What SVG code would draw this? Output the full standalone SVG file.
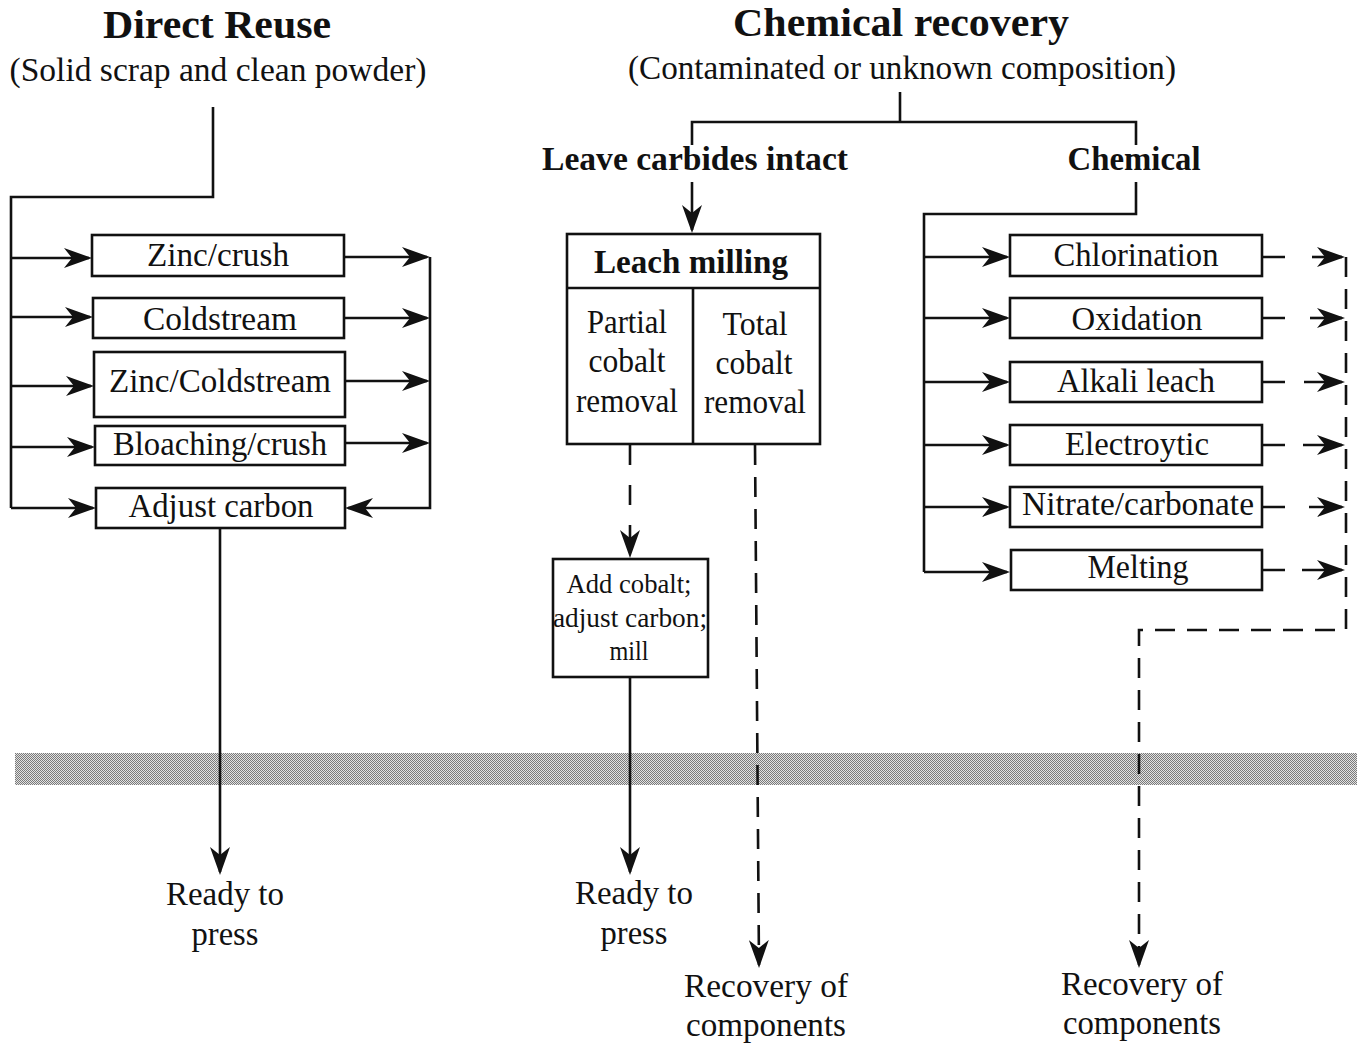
<svg xmlns="http://www.w3.org/2000/svg" width="1363" height="1046" viewBox="0 0 1363 1046">
  <style>
    text { font-family: "Liberation Serif", "Times New Roman", serif; fill: #111; text-anchor: middle; }
    .title { font-size: 40px; font-weight: bold; }
    .sub { font-size: 33px; }
    .head { font-size: 33px; font-weight: bold; }
    .lbl { font-size: 33px; }
    .small { font-size: 27px; }
    .box { fill: #fff; stroke: #111; stroke-width: 2.6; }
    .ln { fill: none; stroke: #111; stroke-width: 2.6; }
    .dash { fill: none; stroke: #111; stroke-width: 2.6; stroke-dasharray: 20 12; }
  </style>
  <defs>
    <marker id="arr" viewBox="0 0 28 20" refX="25" refY="10" markerWidth="28" markerHeight="20" markerUnits="userSpaceOnUse" orient="auto">
      <path d="M0,0 L28,10 L0,20 L8,10 Z" fill="#111"/>
    </marker>
    <pattern id="dither" width="2" height="2" patternUnits="userSpaceOnUse">
      <rect width="2" height="2" fill="#e2e2e2"/>
      <rect width="1" height="1" fill="#7a7a7a"/>
      <rect x="1" y="1" width="1" height="1" fill="#7a7a7a"/>
    </pattern>
  </defs>

  <rect width="1363" height="1046" fill="#fff"/>

  <!-- shaded separator band -->
  <rect x="15" y="753" width="1342" height="32" fill="url(#dither)"/>

  <!-- headings -->
  <g id="heading-direct">
    <text class="title" x="217" y="38" textLength="228" lengthAdjust="spacingAndGlyphs">Direct Reuse</text>
    <text class="sub" x="218" y="81" textLength="417" lengthAdjust="spacingAndGlyphs">(Solid scrap and clean powder)</text>
  </g>
  <g id="heading-chemical">
    <text class="title" x="901" y="36" textLength="336" lengthAdjust="spacingAndGlyphs">Chemical recovery</text>
    <text class="sub" x="902" y="79" textLength="548" lengthAdjust="spacingAndGlyphs">(Contaminated or unknown composition)</text>
  </g>
  <g id="branch-intact">
    <text class="head" x="695" y="170" textLength="306" lengthAdjust="spacingAndGlyphs">Leave carbides intact</text>
  </g>
  <g id="branch-chemical">
    <text class="head" x="1134" y="170" textLength="133" lengthAdjust="spacingAndGlyphs">Chemical</text>
  </g>

  <!-- connectors -->
  <g id="connectors">
    <!-- direct reuse feed -->
    <path class="ln" d="M213,107 V197 H11 V508"/>
    <line class="ln" x1="11" y1="258" x2="89" y2="258" marker-end="url(#arr)"/>
    <line class="ln" x1="11" y1="317" x2="90" y2="317" marker-end="url(#arr)"/>
    <line class="ln" x1="11" y1="386" x2="91" y2="386" marker-end="url(#arr)"/>
    <line class="ln" x1="11" y1="447" x2="92" y2="447" marker-end="url(#arr)"/>
    <line class="ln" x1="11" y1="508" x2="93" y2="508" marker-end="url(#arr)"/>
    <!-- outputs to collector -->
    <line class="ln" x1="344" y1="257" x2="427" y2="257" marker-end="url(#arr)"/>
    <line class="ln" x1="344" y1="318" x2="427" y2="318" marker-end="url(#arr)"/>
    <line class="ln" x1="345" y1="381" x2="427" y2="381" marker-end="url(#arr)"/>
    <line class="ln" x1="345" y1="443" x2="427" y2="443" marker-end="url(#arr)"/>
    <path class="ln" d="M430,257 V508 H348" marker-end="url(#arr)"/>
    <line class="ln" x1="220" y1="528" x2="220" y2="872" marker-end="url(#arr)"/>

    <!-- chemical recovery split -->
    <path class="ln" d="M900,92 V122"/>
    <path class="ln" d="M692,145 V122 H1136 V145"/>
    <line class="ln" x1="692" y1="182" x2="692" y2="230" marker-end="url(#arr)"/>

    <!-- leach milling outputs -->
    <line class="ln" x1="630" y1="445" x2="630" y2="555" stroke-dasharray="20 20" marker-end="url(#arr)"/>
    <line class="ln" x1="630" y1="678" x2="630" y2="872" marker-end="url(#arr)"/>
    <line class="dash" x1="755" y1="445" x2="759" y2="965" marker-end="url(#arr)"/>

    <!-- chemical routes feed -->
    <path class="ln" d="M1136,182 V214 H924 V572"/>
    <line class="ln" x1="924" y1="257" x2="1007" y2="257" marker-end="url(#arr)"/>
    <line class="ln" x1="924" y1="318" x2="1007" y2="318" marker-end="url(#arr)"/>
    <line class="ln" x1="924" y1="382" x2="1007" y2="382" marker-end="url(#arr)"/>
    <line class="ln" x1="924" y1="445" x2="1007" y2="445" marker-end="url(#arr)"/>
    <line class="ln" x1="924" y1="507" x2="1007" y2="507" marker-end="url(#arr)"/>
    <line class="ln" x1="924" y1="572" x2="1007" y2="572" marker-end="url(#arr)"/>

    <!-- chemical routes outputs (dashed) -->
    <path class="ln" d="M1262,257 H1285 M1262,318 H1285 M1262,382 H1285 M1262,445 H1285 M1262,507 H1285 M1262,570 H1285"/>
    <line class="ln" x1="1312" y1="257" x2="1342" y2="257" marker-end="url(#arr)"/>
    <line class="ln" x1="1310" y1="318" x2="1342" y2="318" marker-end="url(#arr)"/>
    <line class="ln" x1="1304" y1="382" x2="1342" y2="382" marker-end="url(#arr)"/>
    <line class="ln" x1="1303" y1="445" x2="1342" y2="445" marker-end="url(#arr)"/>
    <line class="ln" x1="1309" y1="507" x2="1342" y2="507" marker-end="url(#arr)"/>
    <line class="ln" x1="1302" y1="570" x2="1342" y2="570" marker-end="url(#arr)"/>
    <path class="dash" d="M1346,257 V630 H1139 V965" marker-end="url(#arr)"/>
  </g>

  <!-- direct reuse process boxes -->
  <g id="zinc-crush">
    <rect class="box" x="92" y="235" width="252" height="41"/>
    <text class="lbl" x="218" y="266" textLength="142" lengthAdjust="spacingAndGlyphs">Zinc/crush</text>
  </g>
  <g id="coldstream">
    <rect class="box" x="93" y="298" width="251" height="40"/>
    <text class="lbl" x="220" y="330" textLength="154" lengthAdjust="spacingAndGlyphs">Coldstream</text>
  </g>
  <g id="zinc-coldstream">
    <rect class="box" x="94" y="352" width="251" height="65"/>
    <text class="lbl" x="220" y="392" textLength="222" lengthAdjust="spacingAndGlyphs">Zinc/Coldstream</text>
  </g>
  <g id="bloaching-crush">
    <rect class="box" x="95" y="426" width="250" height="39"/>
    <text class="lbl" x="220" y="455" textLength="214" lengthAdjust="spacingAndGlyphs">Bloaching/crush</text>
  </g>
  <g id="adjust-carbon">
    <rect class="box" x="96" y="488" width="249" height="40"/>
    <text class="lbl" x="221" y="517" textLength="185" lengthAdjust="spacingAndGlyphs">Adjust carbon</text>
  </g>
  <g id="ready-press-1">
    <text class="lbl" x="225" y="905" textLength="118" lengthAdjust="spacingAndGlyphs">Ready to</text>
    <text class="lbl" x="225" y="945" textLength="67" lengthAdjust="spacingAndGlyphs">press</text>
  </g>

  <!-- leach milling -->
  <g id="leach-milling">
    <rect class="box" x="567" y="234" width="253" height="210"/>
    <line class="ln" x1="567" y1="288" x2="820" y2="288"/>
    <line class="ln" x1="693" y1="288" x2="693" y2="444"/>
    <text class="head" x="691" y="273" textLength="194" lengthAdjust="spacingAndGlyphs">Leach milling</text>
    <text class="lbl" x="627" y="333" textLength="80" lengthAdjust="spacingAndGlyphs">Partial</text>
    <text class="lbl" x="627" y="372" textLength="77" lengthAdjust="spacingAndGlyphs">cobalt</text>
    <text class="lbl" x="627" y="412" textLength="102" lengthAdjust="spacingAndGlyphs">removal</text>
    <text class="lbl" x="755" y="335" textLength="65" lengthAdjust="spacingAndGlyphs">Total</text>
    <text class="lbl" x="754" y="374" textLength="77" lengthAdjust="spacingAndGlyphs">cobalt</text>
    <text class="lbl" x="755" y="413" textLength="102" lengthAdjust="spacingAndGlyphs">removal</text>
  </g>
  <g id="add-cobalt">
    <rect class="box" x="553" y="559" width="155" height="118"/>
    <text class="small" x="629" y="593" textLength="125" lengthAdjust="spacingAndGlyphs">Add cobalt;</text>
    <text class="small" x="630" y="627" textLength="154" lengthAdjust="spacingAndGlyphs">adjust carbon;</text>
    <text class="small" x="629" y="660" textLength="39" lengthAdjust="spacingAndGlyphs">mill</text>
  </g>
  <g id="ready-press-2">
    <text class="lbl" x="634" y="904" textLength="118" lengthAdjust="spacingAndGlyphs">Ready to</text>
    <text class="lbl" x="634" y="944" textLength="67" lengthAdjust="spacingAndGlyphs">press</text>
  </g>
  <g id="recovery-1">
    <text class="lbl" x="766" y="997" textLength="164" lengthAdjust="spacingAndGlyphs">Recovery of</text>
    <text class="lbl" x="766" y="1036" textLength="160" lengthAdjust="spacingAndGlyphs">components</text>
  </g>

  <!-- chemical process boxes -->
  <g id="chlorination">
    <rect class="box" x="1010" y="235" width="252" height="41"/>
    <text class="lbl" x="1136" y="266" textLength="165" lengthAdjust="spacingAndGlyphs">Chlorination</text>
  </g>
  <g id="oxidation">
    <rect class="box" x="1010" y="298" width="252" height="40"/>
    <text class="lbl" x="1137" y="330" textLength="131" lengthAdjust="spacingAndGlyphs">Oxidation</text>
  </g>
  <g id="alkali-leach">
    <rect class="box" x="1010" y="362" width="252" height="40"/>
    <text class="lbl" x="1136" y="392" textLength="158" lengthAdjust="spacingAndGlyphs">Alkali leach</text>
  </g>
  <g id="electroytic">
    <rect class="box" x="1010" y="425" width="252" height="40"/>
    <text class="lbl" x="1137" y="455" textLength="144" lengthAdjust="spacingAndGlyphs">Electroytic</text>
  </g>
  <g id="nitrate-carbonate">
    <rect class="box" x="1010" y="487" width="252" height="40"/>
    <text class="lbl" x="1138" y="515" textLength="232" lengthAdjust="spacingAndGlyphs">Nitrate/carbonate</text>
  </g>
  <g id="melting">
    <rect class="box" x="1011" y="550" width="251" height="40"/>
    <text class="lbl" x="1138" y="578" textLength="101" lengthAdjust="spacingAndGlyphs">Melting</text>
  </g>
  <g id="recovery-2">
    <text class="lbl" x="1142" y="995" textLength="162" lengthAdjust="spacingAndGlyphs">Recovery of</text>
    <text class="lbl" x="1142" y="1034" textLength="158" lengthAdjust="spacingAndGlyphs">components</text>
  </g>
</svg>
